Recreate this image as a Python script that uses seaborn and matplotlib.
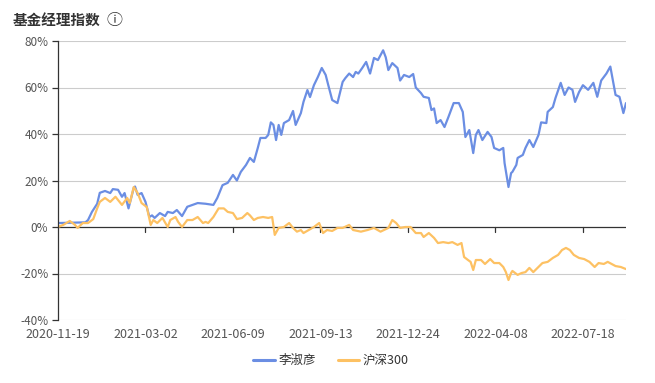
import pandas as pd
import numpy as np
import matplotlib.pyplot as plt
import seaborn as sb

# 交易日序号 (0 = 2020-11-19)
lsy_day = [0, 21, 23, 26, 30, 32, 36, 40, 42, 46, 49, 51, 54, 58, 59, 61, 64, 67, 70, 72,
           74, 78, 82, 84, 88, 91, 95, 99, 103, 107, 113, 119, 122, 126, 130, 134, 137, 140,
           144, 147, 150, 153, 155, 159, 161, 163, 165, 167, 169, 171, 173, 177, 180, 182,
           186, 188, 191, 193, 196, 199, 202, 205, 207, 210, 214, 218, 220, 223, 226, 228,
           230, 233, 236, 239, 242, 245, 249, 251, 253, 256, 260, 262, 265, 269, 272, 274,
           278, 280, 284, 286, 288, 290, 293, 296, 299, 303, 307, 310, 312, 315, 318, 320,
           322, 325, 329, 332, 334, 338, 341, 342, 345, 347, 348, 351, 352, 356, 358, 361,
           364, 368, 370, 374, 375, 379, 381, 385, 388, 391, 394, 396, 399, 402, 406, 410,
           413, 416, 420, 423, 425, 427, 430, 433, 435]
lsy_val = [1.7, 2.0, 3.0, 6.5, 10.0, 14.7, 15.5, 14.6, 16.3, 16.0, 13.0, 14.6, 8.0, 16.8,
           17.4, 13.8, 14.6, 10.8, 4.3, 5.0, 3.9, 6.0, 4.7, 6.5, 6.0, 7.3, 4.7, 8.7, 9.5,
           10.3, 10.0, 9.5, 12.5, 18.0, 19.0, 22.4, 20.0, 23.7, 26.7, 29.7, 28.0, 34.0,
           38.3, 38.3, 39.6, 45.0, 43.9, 37.4, 43.9, 39.6, 44.7, 46.0, 49.9, 43.9, 49.0,
           53.8, 58.9, 55.9, 61.0, 64.5, 68.4, 65.4, 61.0, 54.6, 53.3, 62.4, 64.0, 66.0,
           64.5, 66.7, 66.0, 68.4, 71.0, 66.0, 72.7, 71.8, 76.0, 73.0, 67.5, 70.5, 68.4,
           63.0, 65.4, 64.5, 65.8, 60.0, 57.6, 56.0, 55.5, 50.3, 51.0, 44.7, 46.0, 43.0,
           47.3, 53.3, 53.3, 49.5, 38.7, 41.7, 31.8, 39.6, 41.7, 37.4, 40.9, 38.7, 34.0,
           33.0, 34.0, 27.5, 17.2, 23.2, 23.7, 26.7, 29.7, 31.0, 34.0, 37.4, 34.4, 39.6,
           45.0, 44.7, 49.5, 51.6, 55.5, 62.0, 56.8, 60.0, 59.0, 53.8, 58.0, 61.0, 59.0,
           62.0, 56.0, 63.0, 66.0, 69.0, 63.0, 56.8, 56.0, 49.0, 53.3]

hs300_day = [0, 4, 9, 13, 15, 19, 23, 27, 30, 32, 36, 40, 44, 46, 49, 53, 55, 58, 61, 64,
             68, 71, 73, 76, 80, 84, 86, 90, 92, 95, 99, 103, 107, 111, 113, 115, 119, 123,
             127, 130, 134, 137, 141, 145, 147, 150, 153, 157, 161, 164, 166, 169, 173, 177,
             180, 183, 186, 188, 192, 196, 200, 203, 206, 210, 214, 218, 223, 226, 232, 237,
             242, 247, 253, 256, 259, 262, 266, 270, 274, 278, 280, 284, 288, 291, 295, 299,
             302, 306, 309, 311, 314, 316, 318, 320, 324, 327, 331, 334, 338, 341, 343, 345,
             347, 348, 352, 355, 358, 361, 364, 368, 371, 375, 379, 383, 386, 389, 392, 395,
             399, 403, 407, 411, 414, 418, 421, 424, 427, 431, 435]
hs300_val = [0.0, 0.9, 2.6, 0.9, -0.4, 1.7, 1.7, 3.4, 8.0, 10.8, 12.5, 10.8, 13.0, 11.6,
             9.5, 12.5, 10.3, 17.2, 14.6, 10.3, 8.6, 0.9, 3.0, 1.7, 3.9, 0.0, 3.0, 4.3, 2.2,
             0.0, 3.0, 3.0, 4.3, 1.7, 2.2, 1.7, 4.3, 8.0, 8.0, 6.5, 6.0, 3.4, 3.9, 6.0, 5.0,
             3.0, 3.9, 4.3, 3.9, 4.3, -3.4, -0.4, 0.0, 1.7, -0.4, -2.0, -1.3, -2.6, -1.3,
             0.0, 1.7, -2.6, -1.3, -1.7, -0.4, -0.4, 0.9, -1.3, -2.0, -1.3, -0.4, -2.0,
             -0.4, 3.0, 1.7, -0.4, 0.0, 0.0, -2.6, -2.6, -4.3, -2.6, -4.7, -6.9, -6.5, -6.9,
             -6.5, -7.7, -6.9, -12.9, -14.2, -15.0, -18.5, -14.2, -14.2, -15.9, -13.8,
             -15.5, -15.5, -17.2, -19.4, -22.8, -19.8, -18.9, -20.6, -19.8, -19.4, -17.6,
             -19.4, -17.2, -15.5, -15.0, -13.3, -12.0, -9.9, -9.0, -9.9, -12.0, -13.3,
             -13.8, -15.0, -17.2, -15.5, -15.9, -15.0, -15.9, -16.8, -17.2, -18.1]

tick_pos = [0, 67, 134, 201, 268, 335, 402]
tick_labels = ["2020-11-19", "2021-03-02", "2021-06-09", "2021-09-13",
               "2021-12-24", "2022-04-08", "2022-07-18"]
y_ticks = [-40, -20, 0, 20, 40, 60, 80]

df = pd.concat([
    pd.DataFrame({"day": lsy_day, "value": lsy_val, "name": "李淑彦"}),
    pd.DataFrame({"day": hs300_day, "value": hs300_val, "name": "沪深300"}),
])

sb.set_style("white")
plt.rcParams["font.family"] = ["Noto Sans CJK SC", "DejaVu Sans"]

fig = plt.figure(figsize=(6.55, 3.83), dpi=100)
ax = fig.add_axes([58 / 655, 1 - 320 / 383, (626 - 58) / 655, (320 - 41) / 383])

colors = {"李淑彦": "#6b8ee3", "沪深300": "#fdc163"}
sb.lineplot(data=df, x="day", y="value", hue="name", palette=colors,
            linewidth=1.6, ax=ax, legend=False)

ax.set_xlim(0, 435)
ax.set_ylim(-40, 80)
ax.set_yticks(y_ticks)
ax.set_yticklabels([f"{v}%" for v in y_ticks])
ax.set_xticks(tick_pos)
ax.set_xticklabels(tick_labels)
ax.set_xlabel("")
ax.set_ylabel("")
for v in y_ticks:
    if v != 0:
        ax.axhline(v, color="#cccccc", linewidth=0.8, zorder=0)
ax.axhline(0, color="#333333", linewidth=0.9, zorder=1)
for p in tick_pos[1:]:
    ax.plot([p, p], [0, -2.2], color="#333333", linewidth=0.9, zorder=1)

for s in ["top", "right", "bottom"]:
    ax.spines[s].set_visible(False)
ax.spines["left"].set_color("#333333")
ax.spines["left"].set_linewidth(0.9)
ax.tick_params(axis="y", length=4, width=0.9, color="#333333", labelcolor="#555555",
               labelsize=8.5, pad=3, left=True)
ax.tick_params(axis="x", length=0, labelcolor="#555555", labelsize=9, pad=5.5)

fig.text(13 / 655, 1 - 21 / 383, "基金经理指数", fontsize=10.5, fontweight="bold",
         color="#333333", va="center", ha="left")
fig.text(107 / 655, 1 - 21 / 383, "ⓘ", fontsize=11.5, color="#333333",
         va="center", ha="left", family=["Noto Sans CJK SC", "DejaVu Sans"])

# 图例
ly = 1 - 360 / 383
fig.lines.append(plt.Line2D([253 / 655, 275 / 655], [ly, ly], color=colors["李淑彦"],
                            linewidth=2.2, transform=fig.transFigure))
fig.text(279 / 655, ly, "李淑彦", fontsize=9, color="#333333", va="center")
fig.lines.append(plt.Line2D([338 / 655, 359 / 655], [ly, ly], color=colors["沪深300"],
                            linewidth=2.2, transform=fig.transFigure))
fig.text(363 / 655, ly, "沪深300", fontsize=9, color="#333333", va="center")

plt.savefig("out.png", dpi=100)
